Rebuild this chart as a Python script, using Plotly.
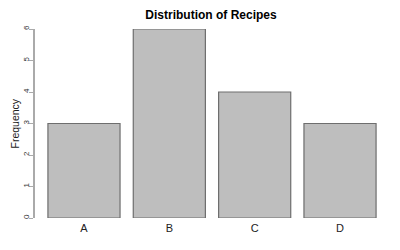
import plotly.graph_objects as go

categories = ["A", "B", "C", "D"]
frequencies = [3, 6, 4, 3]
y_ticks = [0, 1, 2, 3, 4, 5, 6]

fig = go.Figure(go.Bar(
    x=categories, y=frequencies,
    width=0.845,
    marker=dict(color="#BEBEBE", line=dict(color="#6E6E6E", width=1.2)),
))

fig.update_layout(
    width=400, height=250,
    margin=dict(l=35, r=11, t=29, b=32),
    paper_bgcolor="white", plot_bgcolor="white",
    showlegend=False,
    title=dict(text="<b>Distribution of Recipes</b>", x=211 / 400, xanchor="center",
               xref="container", y=1 - 15 / 250, yanchor="middle",
               font=dict(family="Liberation Sans, Arial", size=12, color="black")),
    font=dict(family="Liberation Sans, Arial", color="black"),
    annotations=[dict(text="Frequency", xref="paper", yref="paper",
                      x=-21 / 354, y=0.5, xanchor="center", yanchor="middle",
                      textangle=-90, showarrow=False,
                      font=dict(size=10.5, color="#222"))],
)
fig.update_xaxes(
    range=[-0.574, 3.574], showline=False, showgrid=False, zeroline=False,
    ticks="", ticklen=0, tickfont=dict(size=11, color="#222"), automargin=False,
    ticklabelstandoff=2,
)
fig.update_yaxes(
    range=[0, 6], tickvals=y_ticks, showgrid=False, zeroline=False,
    showline=True, linecolor="#AAAAAA", linewidth=1.5,
    ticks="outside", ticklen=4, tickcolor="#AAAAAA", tickwidth=1,
    tickangle=-90, tickfont=dict(size=8, color="#333"), automargin=False,
    ticklabelstandoff=-3,
)
fig.write_html("out.html")
